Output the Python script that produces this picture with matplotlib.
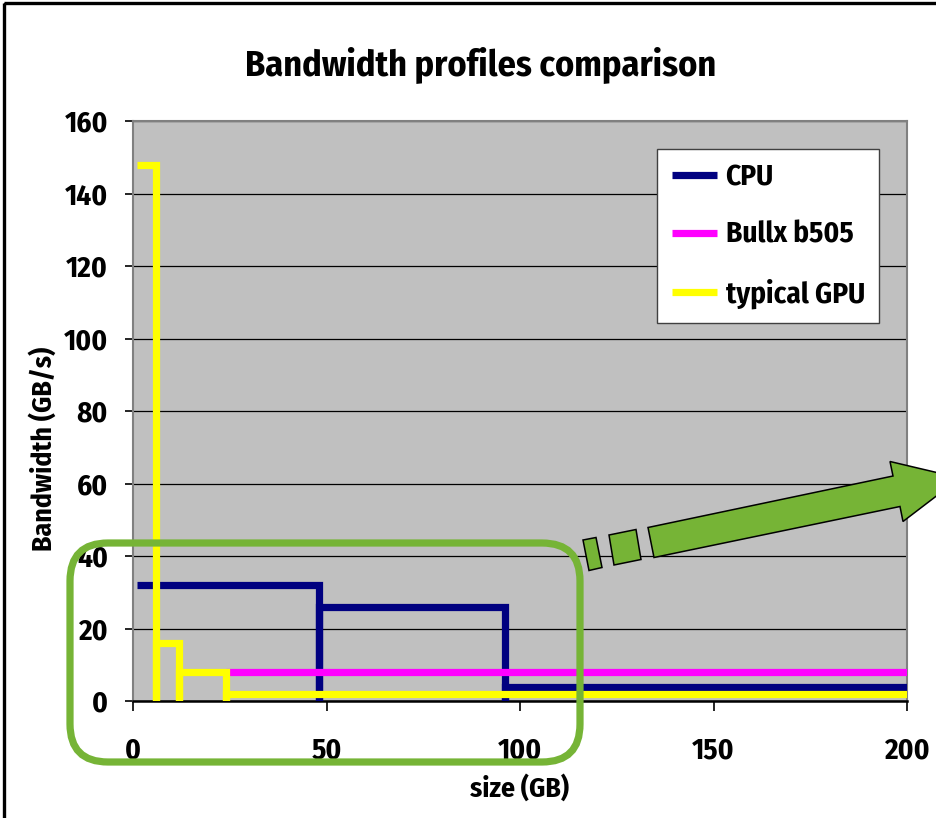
import matplotlib
matplotlib.use("Agg")
import matplotlib.pyplot as plt
from matplotlib.patches import FancyBboxPatch, Polygon, Rectangle

plt.rcParams['font.family'] = ['Fira Sans Condensed', 'Liberation Sans', 'DejaVu Sans']
plt.rcParams['font.weight'] = 'bold'

# data (size in GB, bandwidth in GB/s)
cpu_x = [1, 48, 48, 48, 96, 96, 96, 200]
cpu_y = [32, 32, 0, 26, 26, 0, 4, 4]

bullx_x = [24, 200]
bullx_y = [8, 8]

gpu_x = [1, 6, 6, 6, 12, 12, 12, 24, 24, 24, 200]
gpu_y = [148, 148, 0, 16, 16, 0, 8, 8, 0, 2, 2]

x_ticks = [0, 50, 100, 150, 200]
y_ticks = [0, 20, 40, 60, 80, 100, 120, 140, 160]

W, H = 936, 818
fig = plt.figure(figsize=(W / 100, H / 100), dpi=100)
fig.patch.set_facecolor('white')

# axes box in pixels: x 133..907, y 121..701
ax = fig.add_axes([133 / W, 1 - 701 / H, (907 - 133) / W, (701 - 121) / H])
ax.set_facecolor('#C0C0C0')

lw = 5.2
ax.plot(cpu_x, cpu_y, color='#000080', lw=lw, label='CPU', zorder=3,
        solid_joinstyle='miter', solid_capstyle='butt')
ax.plot(bullx_x, bullx_y, color='#FF00FF', lw=lw, label='Bullx b505', zorder=4,
        solid_joinstyle='miter', solid_capstyle='butt')
ax.plot(gpu_x, gpu_y, color='#FFFF00', lw=lw, label='typical GPU', zorder=5,
        solid_joinstyle='miter', solid_capstyle='butt')

ax.set_xlim(0, 200)
ax.set_ylim(0, 160)
ax.set_xticks(x_ticks)
ax.set_yticks(y_ticks)
ax.grid(axis='y', color='black', lw=0.9)
ax.set_axisbelow(True)

for s in ['left', 'top', 'right']:
    ax.spines[s].set_color('#808080')
    ax.spines[s].set_linewidth(1.5)
ax.spines['bottom'].set_color('black')
ax.spines['bottom'].set_linewidth(1.8)

ax.tick_params(axis='x', direction='out', length=7, width=1.2, colors='black',
               labelsize=21, pad=19)
ax.tick_params(axis='y', direction='out', length=6, width=1.2, colors='black',
               labelsize=21, pad=12)
for t in ax.get_xticklabels() + ax.get_yticklabels():
    t.set_fontweight('bold')

leg = ax.legend(loc='upper left', bbox_to_anchor=(0.677, 0.952), fontsize=21,
                frameon=True, fancybox=False, edgecolor='#404040',
                facecolor='white', framealpha=1,
                handlelength=1.55, handletextpad=0.3, labelspacing=1.0,
                borderpad=0.5, borderaxespad=0)
leg.get_frame().set_linewidth(1.0)
for t in leg.get_texts():
    t.set_fontweight('bold')

fig.text(481 / W, 1 - 75 / H, 'Bandwidth profiles comparison', ha='center',
         va='baseline', fontsize=26, fontweight='bold')
fig.text(520 / W, 1 - 797 / H, 'size (GB)', ha='center', va='baseline',
         fontsize=20, fontweight='bold')
fig.text(43 / W, 1 - 449 / H, 'Bandwidth (GB/s)', ha='center', va='center',
         rotation=90, fontsize=20, fontweight='bold')

# overlay in pixel coordinates for the callout decorations
ov = fig.add_axes([0, 0, 1, 1], zorder=10)
ov.set_xlim(0, W)
ov.set_ylim(H, 0)
ov.axis('off')

green = '#76B436'
ov.add_patch(FancyBboxPatch((70, 543), 510, 219,
                            boxstyle='round,pad=0,rounding_size=38',
                            fill=False, edgecolor=green, lw=5.2))
ov.add_patch(Polygon([(583, 540), (596, 537.5), (602, 567.5), (589, 570.5)],
                     closed=True, facecolor=green, edgecolor='black', lw=1.1))
ov.add_patch(Polygon([(609, 535), (636, 529.5), (641, 559.5), (614, 565)],
                     closed=True, facecolor=green, edgecolor='black', lw=1.1))
ov.add_patch(Polygon([(648, 527.5), (893, 476), (890, 461.5), (960, 478),
                      (903, 521.5), (900, 506.5), (654, 557.5)],
                     closed=True, facecolor=green, edgecolor='black', lw=1.1))

# chart frame (left and top edges visible)
ov.add_patch(Rectangle((4, 3), 1000, 900, fill=False, edgecolor='black', lw=2.4))

fig.savefig('out.png', dpi=100)
